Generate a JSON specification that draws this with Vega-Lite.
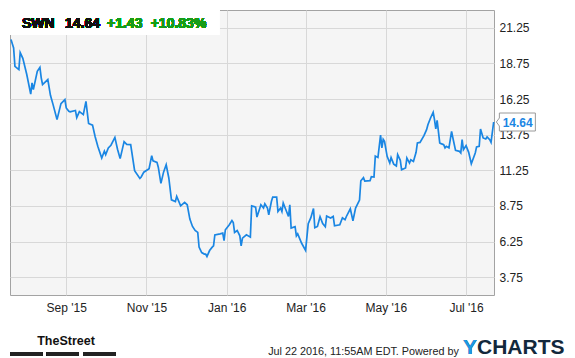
{
  "$schema": "https://vega.github.io/schema/vega-lite/v6.json",
  "autosize": {"type": "none"},
  "padding": {"left": 10, "top": 10, "right": 81, "bottom": 63},
  "width": 484,
  "height": 285,
  "background": "#ffffff",
  "config": {
    "font": "Liberation Sans",
    "view": {"fill": "#f5f5f5", "stroke": "#a3a3a3", "strokeWidth": 1}
  },
  "title": {
    "text": "YCHARTS",
    "subtitle": "Y",
    "orient": "bottom",
    "anchor": "start",
    "frame": "group",
    "dx": 453,
    "offset": -19,
    "font": "Liberation Sans",
    "fontSize": 21,
    "fontWeight": "bold",
    "color": "#13283c",
    "subtitleFont": "Liberation Sans",
    "subtitleFontSize": 21,
    "subtitleFontWeight": "bold",
    "subtitleColor": "#1b9ae4",
    "subtitlePadding": -21
  },
  "data": {
    "values": [
      {"date": "2015-07-21", "price": 20.43},
      {"date": "2015-07-23", "price": 19.84},
      {"date": "2015-07-24", "price": 18.55},
      {"date": "2015-07-27", "price": 18.32},
      {"date": "2015-07-28", "price": 19.51},
      {"date": "2015-07-30", "price": 19.11},
      {"date": "2015-08-02", "price": 17.97},
      {"date": "2015-08-05", "price": 16.60},
      {"date": "2015-08-06", "price": 17.38},
      {"date": "2015-08-07", "price": 16.91},
      {"date": "2015-08-10", "price": 18.20},
      {"date": "2015-08-12", "price": 18.48},
      {"date": "2015-08-13", "price": 17.74},
      {"date": "2015-08-14", "price": 17.27},
      {"date": "2015-08-18", "price": 17.62},
      {"date": "2015-08-20", "price": 16.51},
      {"date": "2015-08-22", "price": 15.86},
      {"date": "2015-08-25", "price": 14.81},
      {"date": "2015-08-28", "price": 15.93},
      {"date": "2015-08-31", "price": 16.21},
      {"date": "2015-09-01", "price": 15.63},
      {"date": "2015-09-03", "price": 15.39},
      {"date": "2015-09-04", "price": 15.35},
      {"date": "2015-09-08", "price": 15.45},
      {"date": "2015-09-09", "price": 14.95},
      {"date": "2015-09-11", "price": 15.37},
      {"date": "2015-09-14", "price": 15.16},
      {"date": "2015-09-16", "price": 16.09},
      {"date": "2015-09-18", "price": 14.54},
      {"date": "2015-09-21", "price": 14.42},
      {"date": "2015-09-23", "price": 13.61},
      {"date": "2015-09-25", "price": 12.94},
      {"date": "2015-09-28", "price": 12.11},
      {"date": "2015-09-30", "price": 12.59},
      {"date": "2015-10-01", "price": 12.35},
      {"date": "2015-10-03", "price": 12.82},
      {"date": "2015-10-05", "price": 13.01},
      {"date": "2015-10-08", "price": 13.56},
      {"date": "2015-10-10", "price": 12.73},
      {"date": "2015-10-12", "price": 12.07},
      {"date": "2015-10-15", "price": 13.26},
      {"date": "2015-10-17", "price": 13.07},
      {"date": "2015-10-20", "price": 13.05},
      {"date": "2015-10-23", "price": 11.22},
      {"date": "2015-10-27", "price": 10.68},
      {"date": "2015-10-28", "price": 10.78},
      {"date": "2015-10-30", "price": 11.12},
      {"date": "2015-11-03", "price": 11.36},
      {"date": "2015-11-05", "price": 12.28},
      {"date": "2015-11-06", "price": 11.91},
      {"date": "2015-11-09", "price": 11.81},
      {"date": "2015-11-10", "price": 11.47},
      {"date": "2015-11-12", "price": 10.33},
      {"date": "2015-11-14", "price": 11.12},
      {"date": "2015-11-16", "price": 11.64},
      {"date": "2015-11-18", "price": 10.71},
      {"date": "2015-11-20", "price": 9.18},
      {"date": "2015-11-23", "price": 9.06},
      {"date": "2015-11-24", "price": 9.42},
      {"date": "2015-11-27", "price": 8.76},
      {"date": "2015-11-30", "price": 9.00},
      {"date": "2015-12-02", "price": 8.83},
      {"date": "2015-12-04", "price": 7.83},
      {"date": "2015-12-06", "price": 7.31},
      {"date": "2015-12-08", "price": 7.03},
      {"date": "2015-12-10", "price": 6.89},
      {"date": "2015-12-11", "price": 5.86},
      {"date": "2015-12-13", "price": 5.48},
      {"date": "2015-12-15", "price": 5.37},
      {"date": "2015-12-16", "price": 5.37},
      {"date": "2015-12-17", "price": 5.20},
      {"date": "2015-12-19", "price": 5.62},
      {"date": "2015-12-21", "price": 5.86},
      {"date": "2015-12-22", "price": 5.95},
      {"date": "2015-12-23", "price": 6.72},
      {"date": "2015-12-27", "price": 6.79},
      {"date": "2015-12-29", "price": 6.84},
      {"date": "2015-12-30", "price": 6.32},
      {"date": "2015-12-31", "price": 7.08},
      {"date": "2016-01-03", "price": 7.43},
      {"date": "2016-01-05", "price": 7.73},
      {"date": "2016-01-06", "price": 7.59},
      {"date": "2016-01-07", "price": 6.89},
      {"date": "2016-01-09", "price": 7.03},
      {"date": "2016-01-11", "price": 6.65},
      {"date": "2016-01-12", "price": 5.95},
      {"date": "2016-01-13", "price": 6.49},
      {"date": "2016-01-16", "price": 6.72},
      {"date": "2016-01-19", "price": 6.56},
      {"date": "2016-01-20", "price": 8.76},
      {"date": "2016-01-23", "price": 8.67},
      {"date": "2016-01-24", "price": 7.97},
      {"date": "2016-01-26", "price": 8.53},
      {"date": "2016-01-27", "price": 8.83},
      {"date": "2016-01-29", "price": 8.60},
      {"date": "2016-01-30", "price": 8.90},
      {"date": "2016-02-01", "price": 8.60},
      {"date": "2016-02-02", "price": 8.13},
      {"date": "2016-02-04", "price": 9.06},
      {"date": "2016-02-05", "price": 9.37},
      {"date": "2016-02-08", "price": 9.37},
      {"date": "2016-02-09", "price": 8.36},
      {"date": "2016-02-11", "price": 8.60},
      {"date": "2016-02-12", "price": 8.36},
      {"date": "2016-02-13", "price": 8.95},
      {"date": "2016-02-15", "price": 8.48},
      {"date": "2016-02-17", "price": 8.01},
      {"date": "2016-02-18", "price": 8.83},
      {"date": "2016-02-19", "price": 7.20},
      {"date": "2016-02-22", "price": 7.29},
      {"date": "2016-02-23", "price": 6.65},
      {"date": "2016-02-24", "price": 6.79},
      {"date": "2016-02-27", "price": 6.13},
      {"date": "2016-03-01", "price": 5.63},
      {"date": "2016-03-03", "price": 7.50},
      {"date": "2016-03-05", "price": 7.93},
      {"date": "2016-03-07", "price": 8.57},
      {"date": "2016-03-08", "price": 7.22},
      {"date": "2016-03-10", "price": 7.31},
      {"date": "2016-03-12", "price": 7.99},
      {"date": "2016-03-14", "price": 7.52},
      {"date": "2016-03-16", "price": 7.29},
      {"date": "2016-03-17", "price": 8.04},
      {"date": "2016-03-20", "price": 7.90},
      {"date": "2016-03-22", "price": 8.01},
      {"date": "2016-03-23", "price": 7.36},
      {"date": "2016-03-27", "price": 7.43},
      {"date": "2016-03-29", "price": 7.92},
      {"date": "2016-03-31", "price": 7.78},
      {"date": "2016-04-01", "price": 8.01},
      {"date": "2016-04-04", "price": 8.55},
      {"date": "2016-04-06", "price": 7.71},
      {"date": "2016-04-08", "price": 8.60},
      {"date": "2016-04-11", "price": 9.16},
      {"date": "2016-04-12", "price": 10.52},
      {"date": "2016-04-14", "price": 10.74},
      {"date": "2016-04-15", "price": 10.50},
      {"date": "2016-04-19", "price": 10.52},
      {"date": "2016-04-20", "price": 10.80},
      {"date": "2016-04-22", "price": 10.78},
      {"date": "2016-04-23", "price": 12.25},
      {"date": "2016-04-25", "price": 12.15},
      {"date": "2016-04-27", "price": 13.72},
      {"date": "2016-04-28", "price": 12.82},
      {"date": "2016-04-29", "price": 13.42},
      {"date": "2016-04-30", "price": 13.28},
      {"date": "2016-05-02", "price": 12.23},
      {"date": "2016-05-04", "price": 11.76},
      {"date": "2016-05-05", "price": 12.14},
      {"date": "2016-05-07", "price": 11.68},
      {"date": "2016-05-09", "price": 11.55},
      {"date": "2016-05-10", "price": 12.35},
      {"date": "2016-05-12", "price": 11.95},
      {"date": "2016-05-13", "price": 11.29},
      {"date": "2016-05-16", "price": 11.41},
      {"date": "2016-05-17", "price": 12.11},
      {"date": "2016-05-19", "price": 11.76},
      {"date": "2016-05-20", "price": 11.99},
      {"date": "2016-05-22", "price": 11.87},
      {"date": "2016-05-24", "price": 12.51},
      {"date": "2016-05-25", "price": 13.17},
      {"date": "2016-05-27", "price": 13.21},
      {"date": "2016-05-30", "price": 13.68},
      {"date": "2016-06-01", "price": 14.10},
      {"date": "2016-06-02", "price": 14.45},
      {"date": "2016-06-04", "price": 14.92},
      {"date": "2016-06-06", "price": 15.32},
      {"date": "2016-06-07", "price": 14.81},
      {"date": "2016-06-08", "price": 14.15},
      {"date": "2016-06-09", "price": 14.76},
      {"date": "2016-06-11", "price": 13.17},
      {"date": "2016-06-12", "price": 13.12},
      {"date": "2016-06-14", "price": 13.05},
      {"date": "2016-06-15", "price": 12.82},
      {"date": "2016-06-16", "price": 12.93},
      {"date": "2016-06-18", "price": 12.82},
      {"date": "2016-06-20", "price": 13.98},
      {"date": "2016-06-21", "price": 13.52},
      {"date": "2016-06-23", "price": 12.65},
      {"date": "2016-06-26", "price": 12.58},
      {"date": "2016-06-27", "price": 12.47},
      {"date": "2016-06-28", "price": 13.40},
      {"date": "2016-06-29", "price": 12.70},
      {"date": "2016-07-01", "price": 12.98},
      {"date": "2016-07-03", "price": 12.51},
      {"date": "2016-07-05", "price": 11.71},
      {"date": "2016-07-08", "price": 12.47},
      {"date": "2016-07-09", "price": 12.89},
      {"date": "2016-07-11", "price": 12.93},
      {"date": "2016-07-12", "price": 14.15},
      {"date": "2016-07-14", "price": 13.52},
      {"date": "2016-07-16", "price": 13.45},
      {"date": "2016-07-17", "price": 13.59},
      {"date": "2016-07-19", "price": 13.40},
      {"date": "2016-07-20", "price": 13.21},
      {"date": "2016-07-22", "price": 14.64}
    ]
  },
  "encoding": {
    "x": {
      "field": "date",
      "type": "temporal",
      "scale": {
        "type": "utc",
        "domain": [
          {"year": 2015, "month": 7, "date": 20, "hours": 6, "utc": true},
          {"year": 2016, "month": 7, "date": 22, "hours": 6, "utc": true}
        ]
      },
      "axis": {
        "values": [
          {"year": 2015, "month": 9, "date": 1, "utc": true},
          {"year": 2015, "month": 11, "date": 1, "utc": true},
          {"year": 2016, "month": 1, "date": 1, "utc": true},
          {"year": 2016, "month": 3, "date": 1, "utc": true},
          {"year": 2016, "month": 5, "date": 1, "utc": true},
          {"year": 2016, "month": 7, "date": 1, "utc": true}
        ],
        "labelExpr": "utcFormat(datum.value, \"%b '%y\")",
        "labelFont": "Liberation Sans",
        "labelFontSize": 12,
        "labelColor": "#222222",
        "labelPadding": 7,
        "ticks": false,
        "domain": false,
        "grid": true,
        "gridColor": "#d8d8d8",
        "gridWidth": 1,
        "title": "TheStreet",
        "titleX": 26.7,
        "titleY": 49.4,
        "titleAlign": "left",
        "titleBaseline": "alphabetic",
        "titleFont": "Liberation Sans",
        "titleFontSize": 12.5,
        "titleFontWeight": "bold",
        "titleColor": "#111111"
      }
    },
    "y": {
      "field": "price",
      "type": "quantitative",
      "scale": {"domain": [2.5, 22.5], "nice": false, "zero": false},
      "axis": {
        "orient": "right",
        "values": [3.75, 6.25, 8.75, 11.25, 13.75, 16.25, 18.75, 21.25],
        "format": ".2f",
        "labelFont": "Liberation Sans",
        "labelFontSize": 12,
        "labelColor": "#222222",
        "labelPadding": 5,
        "ticks": false,
        "domain": false,
        "grid": true,
        "gridColor": "#d8d8d8",
        "gridWidth": 1,
        "title": "Jul 22 2016, 11:55AM EDT.  Powered by",
        "titleAngle": 0,
        "titleX": -226.3,
        "titleY": 344.2,
        "titleAlign": "left",
        "titleBaseline": "alphabetic",
        "titleFont": "Liberation Sans",
        "titleFontSize": 10.8,
        "titleFontWeight": "normal",
        "titleColor": "#222222"
      }
    }
  },
  "layer": [
    {
      "mark": {"type": "rect", "fill": "#ffffff", "opacity": 0.5},
      "encoding": {
        "x": {"datum": {"year": 2015, "month": 7, "date": 20, "hours": 6, "utc": true}, "type": "temporal"},
        "x2": {"datum": {"year": 2015, "month": 12, "date": 26, "hours": 22, "utc": true}},
        "y": {"datum": 22.5},
        "y2": {"datum": 20.75}
      }
    },
    {
      "mark": {"type": "line", "color": "#1a86e3", "strokeWidth": 1.7, "interpolate": "linear"}
    },
    {
      "mark": {"type": "text", "text": "SWN", "align": "left", "baseline": "alphabetic", "font": "Liberation Sans", "fontSize": 14, "fontWeight": "bold", "color": "#111111"},
      "encoding": {
        "x": {"datum": {"year": 2015, "month": 7, "date": 29, "hours": 9, "utc": true}, "type": "temporal"},
        "y": {"datum": 21.26}
      }
    },
    {
      "mark": {"type": "text", "text": "14.64", "align": "left", "baseline": "alphabetic", "font": "Liberation Sans", "fontSize": 14, "fontWeight": "bold", "color": "#111111"},
      "encoding": {
        "x": {"datum": {"year": 2015, "month": 8, "date": 31, "hours": 2, "utc": true}, "type": "temporal"},
        "y": {"datum": 21.26}
      }
    },
    {
      "mark": {"type": "text", "text": "+1.43", "align": "left", "baseline": "alphabetic", "font": "Liberation Sans", "fontSize": 14, "fontWeight": "bold", "color": "#179c17"},
      "encoding": {
        "x": {"datum": {"year": 2015, "month": 10, "date": 2, "utc": true}, "type": "temporal"},
        "y": {"datum": 21.26}
      }
    },
    {
      "mark": {"type": "text", "text": "+10.83%", "align": "left", "baseline": "alphabetic", "font": "Liberation Sans", "fontSize": 14, "fontWeight": "bold", "color": "#179c17"},
      "encoding": {
        "x": {"datum": {"year": 2015, "month": 11, "date": 4, "hours": 5, "utc": true}, "type": "temporal"},
        "y": {"datum": 21.26}
      }
    },
    {
      "transform": [{"filter": "time(datum.date) >= utc(2016, 6, 21)"}],
      "mark": {"type": "point", "shape": "M0.27,0 L0.57,-0.4 L0.57,-0.9 L4.17,-0.9 L4.17,0.9 L0.57,0.9 L0.57,0.4 Z", "size": 400, "filled": true, "fill": "#ffffff", "stroke": "#9a9a9a", "strokeWidth": 1, "opacity": 1}
    },
    {
      "transform": [{"filter": "time(datum.date) >= utc(2016, 6, 21)"}],
      "mark": {"type": "text", "align": "left", "baseline": "middle", "dx": 9, "dy": 0.5, "font": "Liberation Sans", "fontSize": 12, "fontWeight": "bold", "color": "#1a86e3"},
      "encoding": {"text": {"field": "price", "type": "quantitative", "format": ".2f"}}
    },
    {
      "mark": {"type": "rule", "color": "#222222", "strokeWidth": 3.5, "strokeDash": [31.9, 4.7]},
      "encoding": {
        "x": {"datum": {"year": 2015, "month": 7, "date": 20, "hours": 11, "minutes": 30, "utc": true}, "type": "temporal"},
        "x2": {"datum": {"year": 2015, "month": 10, "date": 8, "hours": 11, "utc": true}},
        "y": {"datum": -1.63}
      }
    }
  ]
}
